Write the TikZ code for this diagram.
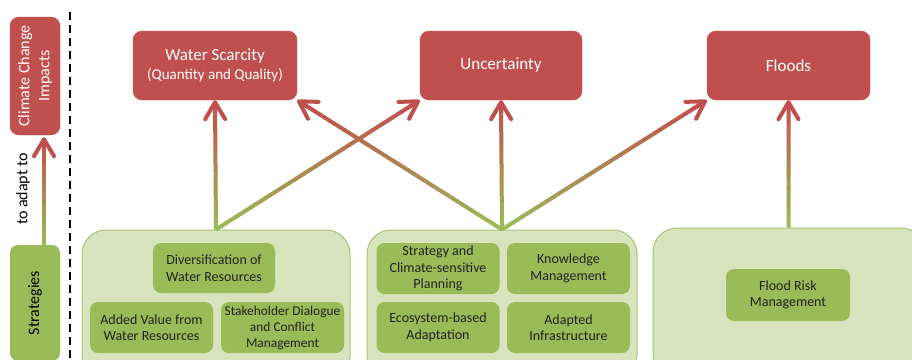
\documentclass[tikz,border=0pt]{standalone}
\usepackage{fontspec}
\setmainfont{Carlito}
\usetikzlibrary{arrows.meta,calc}

\definecolor{impactred}{HTML}{C0504D}
\definecolor{stratgreen}{HTML}{9BBB59}
\definecolor{grouplight}{HTML}{D7E4BD}
\definecolor{textdark}{HTML}{222222}

\tikzset{
  impact/.style={rectangle,rounded corners=9pt,fill=impactred,draw=impactred,text=white,align=center,inner sep=2pt},
  group/.style={rectangle,rounded corners=24pt,fill=grouplight,draw=stratgreen!85,line width=1pt},
  measure/.style={rectangle,rounded corners=8pt,fill=stratgreen,text=textdark,align=center,
    minimum width=123pt,minimum height=51pt,inner sep=1pt,font=\fontsize{14}{16.5}\selectfont},
  link/.style={line width=4pt,line cap=butt},
}

% gradient arrow, green at the foot, red at the head
\newcommand{\adaptlink}[2]{%
  \foreach \k [evaluate=\k as \pct using int(100*\k/39)] in {0,...,39}{%
    \draw[link,draw=impactred!\pct!stratgreen] ($(#1)!\k/40*0.96!(#2)$) -- ($(#1)!\k/40*0.96+0.027!(#2)$);
  }%
  \draw[link,line cap=round,draw=impactred,-{Straight Barb[length=17pt,width=20pt,round]}] ($(#1)!0.95!(#2)$) -- (#2);
}

\begin{document}
\begin{tikzpicture}[x=1pt,y=-1pt]
  \clip (0,0) rectangle (912,359);

  % left legend
  \node[impact,rotate=90,minimum width=118pt,minimum height=50pt,font=\fontsize{16}{20}\selectfont] (cci) at (35,76) {Climate Change\\Impacts};
  \node[rectangle,rounded corners=8pt,fill=stratgreen,rotate=90,minimum width=116pt,minimum height=50pt,font=\fontsize{16}{19}\selectfont] (strat) at (35,303) {Strategies};
  \node[rotate=90,font=\fontsize{16}{19}\selectfont] (adaptlabel) at (23,189) {to adapt to};
  \draw[line width=2.5pt,dash pattern=on 8pt off 5pt] (70,12) -- (70,359);

  % impacts
  \node[impact,minimum width=164pt,minimum height=69pt,font=\fontsize{17}{19}\selectfont] (scarcity) at (215,65.5) {Water Scarcity\\{\fontsize{15}{18}\selectfont (Quantity and Quality)}};
  \node[impact,minimum width=162pt,minimum height=69pt,font=\fontsize{17}{20}\selectfont] (uncert) at (501,65.5) {Uncertainty};
  \node[impact,minimum width=163pt,minimum height=69pt,font=\fontsize{17}{20}\selectfont] (floods) at (788.5,65.5) {Floods};

  % strategy groups
  \node[group,minimum width=268pt,minimum height=150pt] (basin) at (216,305) {};
  \node[group,minimum width=270pt,minimum height=150pt] (cross) at (502,305) {};
  \node[group,minimum width=272pt,minimum height=150pt] (floodgrp) at (789,303) {};

  \node[measure,minimum width=122pt,minimum height=50pt] (diversify) at (214,268) {Diversification of\\Water Resources};
  \node[measure] (addedvalue) at (151.5,327.5) {Added Value from\\Water Resources};
  \node[measure,font=\fontsize{13.4}{16}\selectfont] (dialogue) at (282.5,327.5) {Stakeholder Dialogue\\and Conflict\\Management};

  \node[measure] (planning) at (438,268.5) {Strategy and\\Climate-sensitive\\Planning};
  \node[measure] (knowledge) at (568.5,268.5) {Knowledge\\Management};
  \node[measure] (ecosystem) at (438,327.5) {Ecosystem-based\\Adaptation};
  \node[measure] (infra) at (568.5,327.5) {Adapted\\Infrastructure};

  \node[measure,minimum width=124pt,minimum height=52pt] (floodrisk) at (788,295) {Flood Risk\\Management};

  % links
  \coordinate (adaptfoot) at ($(strat.east)+(9,0)$);
  \coordinate (adapthead) at ($(adaptfoot |- cci.west)+(0,2)$);
  \adaptlink{adaptfoot}{adapthead}
  \adaptlink{basin.north}{scarcity.south}
  \adaptlink{basin.north}{uncert.south west}
  \adaptlink{cross.north}{scarcity.south east}
  \adaptlink{cross.north}{uncert.south}
  \adaptlink{cross.north}{floods.south west}
  \coordinate (floodfoot) at (floods.south |- floodgrp.north);
  \adaptlink{floodfoot}{floods.south}
\end{tikzpicture}
\end{document}
